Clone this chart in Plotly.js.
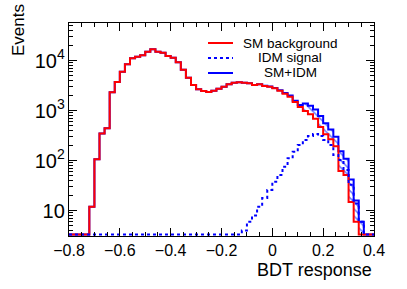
<!DOCTYPE html>
<html><head><meta charset="utf-8">
<script src="https://cdn.plot.ly/plotly-3.0.1.min.js"></script>
<style>html,body{margin:0;padding:0;background:#fff}#chart{width:407px;height:289px}</style>
</head><body><div id="chart"></div>
<script>
// Histogram binning: 60 bins of 0.02 from -0.8 to 0.4
const binStart = -0.8;
const binWidth = 0.02;

const smBackground = [0,0,0,0,12,107,350,445,2330,3750,
  6000,8500,11200,12000,12900,15100,16900,15100,14400,12400,
  11500,9300,6600,4550,3270,2680,2480,2370,2510,2750,
  3020,3370,3630,3700,3630,3530,3270,3370,3120,3020,
  2800,2500,2180,1900,1500,1180,990,850,690,470,
  340,270,195,62,52,15,6,0,0,0];

const idmSignal = [0,0,0,0,0,0,0,0,0,0,
  0,0,0,0,0,0,0,0,0,0,
  0,0,0,0,0,0,0,0,0,0,
  0,0,0,0,4,6,8,12,18,26,
  38,52,76,112,151,206,259,312,342,312,
  259,206,130,103,65,33,14,6,0,0];

const smPlusIdm = [0,0,0,0,12,107,350,445,2330,3750,
  6000,8500,11200,12000,12900,15100,16900,15100,14400,12400,
  11500,9300,6600,4550,3270,2680,2480,2370,2510,2750,
  3020,3370,3630,3700,3630,3540,3280,3380,3140,3050,
  2840,2550,2260,2010,1580,1300,1390,1260,1060,780,
  560,420,300,155,110,42,16,6,0,0];

const legendNames = ['SM background', 'IDM signal', 'SM+IDM'];
const xTitle = 'BDT response';
const yTitle = 'Events';

const yLogRange = [0.494, 4.754];
const floorVal = Math.pow(10, yLogRange[0] + 0.03);

function steps(vals, from, to) {
  from = from || 0; to = to || vals.length;
  const x = [], y = [];
  for (let i = from; i < to; i++) {
    x.push(+(binStart + i * binWidth).toFixed(4));
    y.push(vals[i] > 0 ? vals[i] : floorVal);
  }
  x.push(+(binStart + to * binWidth).toFixed(4));
  y.push(vals[to - 1] > 0 ? vals[to - 1] : floorVal);
  return {x, y};
}

const red = steps(smBackground), dot = steps(idmSignal), blue = steps(smPlusIdm);
const bandLo = steps(smBackground, 42, 58), bandHi = steps(smPlusIdm, 42, 58);

const redLine = {shape: 'hv', width: 2, color: '#ff0000'};
const blueLine = {shape: 'hv', width: 2, color: '#0000ff'};
const dotLine = {shape: 'hv', width: 2, color: '#0000ff', dash: '3px,3px'};

const traces = [
  {x: bandLo.x, y: bandLo.y, type: 'scatter', mode: 'lines', line: {shape: 'hv', width: 0, color: 'rgba(0,0,0,0)'}, showlegend: false, hoverinfo: 'skip'},
  {x: bandHi.x, y: bandHi.y, type: 'scatter', mode: 'lines', line: {shape: 'hv', width: 0, color: 'rgba(0,0,0,0)'}, fill: 'tonexty', fillcolor: 'rgba(0,0,0,0)',
   fillpattern: {shape: '\\', fgcolor: 'rgba(80,100,255,0.85)', bgcolor: 'rgba(0,0,0,0)', size: 5, solidity: 0.3}, showlegend: false, hoverinfo: 'skip'},
  {x: blue.x, y: blue.y, type: 'scatter', mode: 'lines', name: legendNames[2], line: blueLine, showlegend: false},
  {x: red.x, y: red.y, type: 'scatter', mode: 'lines', name: legendNames[0], line: redLine, showlegend: false},
  {x: dot.x, y: dot.y, type: 'scatter', mode: 'lines', name: legendNames[1], line: dotLine, showlegend: false}
];

const font = {family: 'Liberation Sans, Arial, sans-serif', color: '#000'};

// Legend drawn as a ROOT-style box: line sample + centred text
const legX0 = 0.4557, legX1 = 0.5377, legTextX = 0.7246;
const legY = [0.9061, 0.8357, 0.7653];
const legStyles = [redLine, dotLine, blueLine];
const legShapes = legY.map((y, i) => ({type: 'line', xref: 'paper', yref: 'paper', x0: legX0, x1: legX1, y0: y, y1: y,
  line: {color: legStyles[i].color, width: 2, dash: legStyles[i].dash || 'solid'}}));
const legAnn = legY.map((y, i) => ({text: legendNames[i], xref: 'paper', yref: 'paper', x: legTextX, y: y, xanchor: 'center', yanchor: 'middle',
  showarrow: false, font: Object.assign({size: 13.5}, font)}));

const layout = {
  width: 407, height: 289,
  margin: {l: 69, r: 33, t: 23, b: 53, pad: 0},
  paper_bgcolor: '#fff', plot_bgcolor: '#fff',
  font: Object.assign({size: 16}, font),
  showlegend: false,
  xaxis: {range: [-0.8, 0.4], tick0: -0.8, dtick: 0.2, ticks: 'inside', ticklen: 8, tickwidth: 1, tickcolor: '#000',
          showline: true, linecolor: '#000', linewidth: 1, mirror: 'ticks', showgrid: false, zeroline: false,
          tickfont: Object.assign({size: 16}, font),
          minor: {dtick: 0.05, ticks: 'inside', ticklen: 4, tickwidth: 1, tickcolor: '#000', showgrid: false}},
  yaxis: {type: 'log', range: yLogRange, dtick: 1, exponentformat: 'power', ticks: 'inside', ticklen: 8, tickwidth: 1, tickcolor: '#000',
          showline: true, linecolor: '#000', linewidth: 1, mirror: 'ticks', showgrid: false, zeroline: false,
          tickfont: Object.assign({size: 16}, font),
          minor: {dtick: 'D1', ticks: 'inside', ticklen: 4, tickwidth: 1, tickcolor: '#000', showgrid: false}},
  shapes: legShapes,
  annotations: [
    {text: xTitle, xref: 'paper', yref: 'paper', x: 1, y: -0.16, xanchor: 'right', yanchor: 'middle', showarrow: false, font: Object.assign({size: 18}, font)},
    {text: yTitle, xref: 'paper', yref: 'paper', x: -0.167, y: 0.967, xanchor: 'center', yanchor: 'middle', textangle: -90, showarrow: false, font: Object.assign({size: 17}, font)}
  ].concat(legAnn)
};

Plotly.newPlot('chart', traces, layout, {staticPlot: true, displayModeBar: false});
</script>
</body></html>
